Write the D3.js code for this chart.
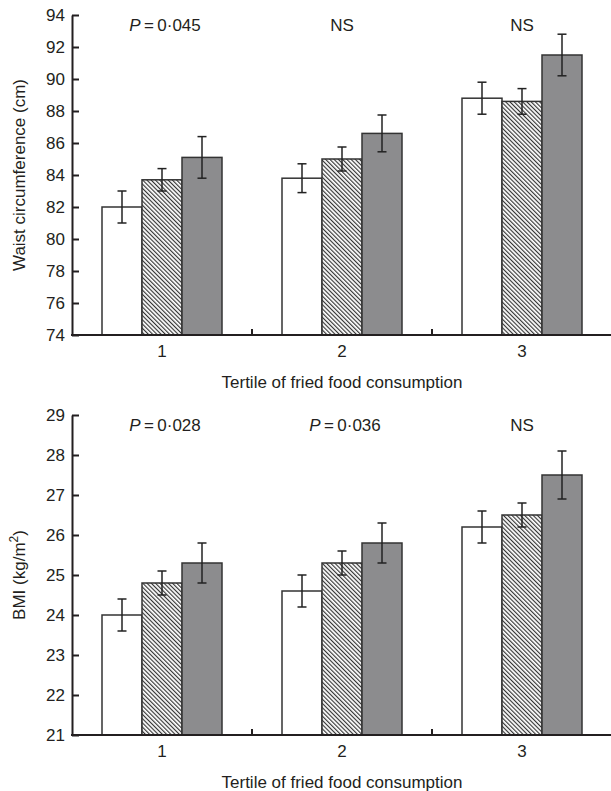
<!DOCTYPE html>
<meta charset='utf-8'>
<style>
  body {
    margin: 0;
    background: #fff;
    font-family: 'Liberation Sans', Arial, Helvetica, sans-serif;
  }
  svg text {
    fill: #231f20;
    font-size: 17px;
  }
  .axisY path, .axisY line {
    stroke: #231f20;
    stroke-width: 2;
  }
  .bar {
    stroke: #333;
    stroke-width: 1.5;
  }
  .err {
    stroke: #222;
    stroke-width: 1.5;
  }
</style>
<body>
<div id='viz'></div>
<script src='https://d3js.org/d3.v7.min.js'></script>
<script>

// Categories and series
var tertiles = ['1', '2', '3'];
var groups   = ['low', 'mid', 'high'];   // white, hatched, grey

// Waist circumference (cm): means and error bar half widths
var waistLow     = [82.0, 83.8, 88.8];
var waistMid     = [83.7, 85.0, 88.6];
var waistHigh    = [85.1, 86.6, 91.5];
var waistLowErr  = [1.0, 0.9, 1.0];
var waistMidErr  = [0.7, 0.75, 0.8];
var waistHighErr = [1.3, 1.15, 1.3];
var waistTicks   = [74, 76, 78, 80, 82, 84, 86, 88, 90, 92, 94];
var waistP       = ['P=0·045', 'NS', 'NS'];

// BMI (kg/m2)
var bmiLow     = [24.0, 24.6, 26.2];
var bmiMid     = [24.8, 25.3, 26.5];
var bmiHigh    = [25.3, 25.8, 27.5];
var bmiLowErr  = [0.4, 0.4, 0.4];
var bmiMidErr  = [0.3, 0.3, 0.3];
var bmiHighErr = [0.5, 0.5, 0.6];
var bmiTicks   = [21, 22, 23, 24, 25, 26, 27, 28, 29];
var bmiP       = ['P=0·028', 'P=0·036', 'NS'];

var xTitle = 'Tertile of fried food consumption';

var W = 611, H = 791;
var svg = d3.select('#viz').append('svg')
    .attr('width', W)
    .attr('height', H);

// diagonal hatching for the middle series
svg.append('defs').append('pattern')
    .attr('id', 'hatch')
    .attr('patternUnits', 'userSpaceOnUse')
    .attr('width', 3).attr('height', 3)
    .attr('patternTransform', 'rotate(-45)')
  .call(function(p) {
    p.append('rect').attr('width', 3).attr('height', 3).attr('fill', '#fff');
    p.append('line').attr('x1', 0.6).attr('x2', 0.6).attr('y1', 0).attr('y2', 3)
      .attr('stroke', '#2a2a2a').attr('stroke-width', 1.1);
  });

var fills = {low: '#fff', mid: 'url(#hatch)', high: '#8c8c8e'};

function drawPanel(opt) {
  var top = opt.top, bottom = opt.bottom, left = 72, right = 612;

  var x = d3.scaleBand().domain(tertiles).range([left, right])
      .paddingInner(1 / 3).paddingOuter(1 / 6);
  var x1 = d3.scaleBand().domain(groups).range([0, x.bandwidth()]);
  var y = d3.scaleLinear().domain(opt.domain).range([bottom, top]);

  var rows = [];
  tertiles.forEach(function(t, i) {
    groups.forEach(function(g, j) {
      rows.push({t: t, g: g, v: opt.means[j][i], e: opt.errs[j][i]});
    });
  });

  var g = svg.append('g');

  // bars
  g.selectAll('.bar')
    .data(rows)
    .enter().append('rect')
    .attr('class', 'bar')
    .attr('x', function(d) { return x(d.t) + x1(d.g); })
    .attr('width', x1.bandwidth())
    .attr('y', function(d) { return y(d.v); })
    .attr('height', function(d) { return bottom - y(d.v); })
    .attr('fill', function(d) { return fills[d.g]; });

  // error bars
  var eb = g.selectAll('.errg')
    .data(rows)
    .enter().append('g')
    .attr('class', 'err')
    .attr('transform', function(d) { return 'translate(' + (x(d.t) + x1(d.g) + x1.bandwidth() / 2) + ',0)'; });
  eb.append('line')
    .attr('y1', function(d) { return y(d.v - d.e); })
    .attr('y2', function(d) { return y(d.v + d.e); });
  eb.append('line').attr('x1', -4.5).attr('x2', 4.5)
    .attr('y1', function(d) { return y(d.v + d.e); })
    .attr('y2', function(d) { return y(d.v + d.e); });
  eb.append('line').attr('x1', -4.5).attr('x2', 4.5)
    .attr('y1', function(d) { return y(d.v - d.e); })
    .attr('y2', function(d) { return y(d.v - d.e); });

  // Y axis, ticks pointing inward
  g.append('g')
    .attr('class', 'axisY')
    .attr('transform', 'translate(' + left + ',0)')
    .call(d3.axisLeft(y).tickValues(opt.ticks).tickSizeInner(-7).tickSizeOuter(0).tickPadding(7))
    .call(function(a) { a.selectAll('text').style('font-size', '17px').attr('fill', '#231f20'); });

  // X axis: baseline, tick marks between tertiles, labels under the centres
  var xa = g.append('g')
    .attr('transform', 'translate(0,' + bottom + ')')
    .call(d3.axisBottom(x).tickSize(0).tickPadding(10));
  xa.select('.domain').remove();
  xa.selectAll('text').style('font-size', '17px').attr('fill', '#231f20');
  xa.append('line')
    .attr('x1', left - 1).attr('x2', right)
    .attr('stroke', '#231f20').attr('stroke-width', 2);
  xa.selectAll('.sep')
    .data(tertiles.slice(0, 2))
    .enter().append('line')
    .attr('x1', function(d) { return x(d) + x.bandwidth() + (x.step() - x.bandwidth()) / 2; })
    .attr('x2', function(d) { return x(d) + x.bandwidth() + (x.step() - x.bandwidth()) / 2; })
    .attr('y1', 0).attr('y2', -6)
    .attr('stroke', '#231f20').attr('stroke-width', 2);

  // P values above each group
  g.selectAll('.ptext')
    .data(opt.pvals)
    .enter().append('text')
    .attr('x', function(d, i) { return x(tertiles[i]) + x.bandwidth() / 2 + (d === 'NS' ? 0 : 3); })
    .attr('y', top + 16)
    .attr('text-anchor', 'middle')
    .each(function(d) {
      var t = d3.select(this);
      if (d.indexOf('P=') === 0) {
        t.append('tspan').attr('font-style', 'italic').text('P');
        t.append('tspan').text('\u2009=\u2009' + d.slice(2));
      } else {
        t.text(d);
      }
    });

  // axis titles
  g.append('text')
    .attr('x', (left + right) / 2)
    .attr('y', bottom + 53)
    .attr('text-anchor', 'middle')
    .text(xTitle);

  var yt = g.append('text')
    .attr('transform', 'translate(25,' + (top + bottom) / 2 + ') rotate(-90)')
    .attr('text-anchor', 'middle');
  opt.yTitle(yt);
}

drawPanel({
  top: 15, bottom: 335, domain: [74, 94], ticks: waistTicks,
  means: [waistLow, waistMid, waistHigh],
  errs: [waistLowErr, waistMidErr, waistHighErr],
  pvals: waistP,
  yTitle: function(t) { t.text('Waist circumference (cm)'); }
});

drawPanel({
  top: 415, bottom: 735, domain: [21, 29], ticks: bmiTicks,
  means: [bmiLow, bmiMid, bmiHigh],
  errs: [bmiLowErr, bmiMidErr, bmiHighErr],
  pvals: bmiP,
  yTitle: function(t) {
    t.append('tspan').text('BMI (kg/m');
    t.append('tspan').attr('dy', -7).style('font-size', '12px').text('2');
    t.append('tspan').attr('dy', 7).text(')');
  }
});

</script>
</body>
